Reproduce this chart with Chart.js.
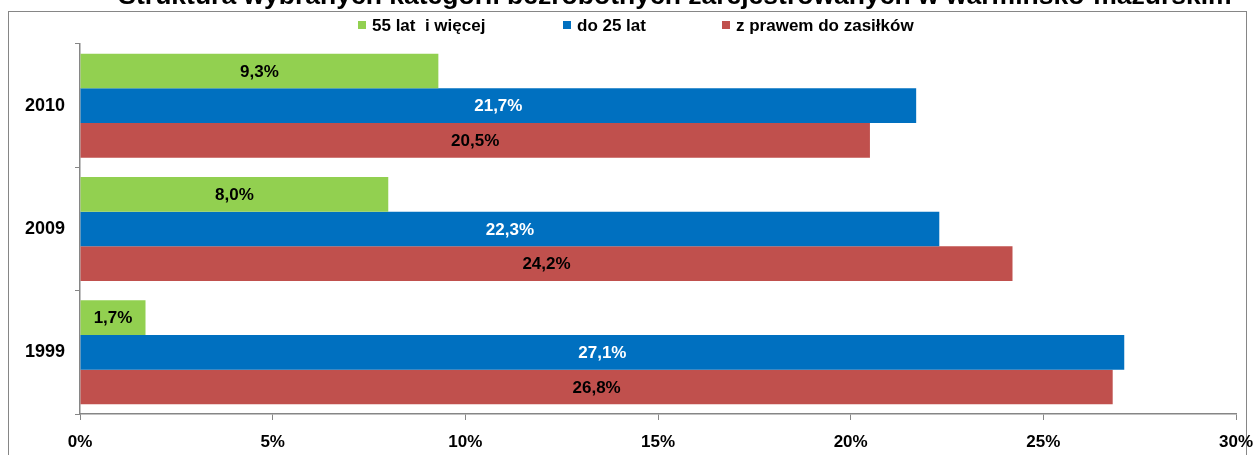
<!DOCTYPE html>
<html lang="pl">
<head>
    <meta charset="UTF-8">
    <title>Struktura wybranych kategorii bezrobotnych</title>
    <script src="https://cdn.jsdelivr.net/npm/chart.js"></script>
    <style>
        html, body { margin: 0; padding: 0; background: #ffffff; }
        #wrap { width: 1254px; height: 455px; position: relative; }
    </style>
</head>
<body>
<div id="wrap">
    <canvas id="unemploymentChart" width="1254" height="455"></canvas>
</div>
<script>
    // Dane: udział kategorii bezrobotnych (%)
    const years = ['2010', '2009', '1999'];
    const seriesNames = ['55 lat  i więcej', 'do 25 lat', 'z prawem do zasiłków'];
    const over55 = [9.3, 8.0, 1.7];
    const under25 = [21.7, 22.3, 27.1];
    const withBenefits = [20.5, 24.2, 26.8];
    const xTicks = [0, 5, 10, 15, 20, 25, 30];

    const titleText = 'Struktura wybranych kategorii bezrobotnych zarejestrowanych w warmińsko-mazurskim';
    const FONT = '"Liberation Sans", Arial, sans-serif';
    const colors = ['#92D050', '#0070C0', '#C0504D'];
    const labelColors = ['#000000', '#ffffff', '#000000'];

    const fmt = v => v.toFixed(1).replace('.', ',') + '%';

    // ramka, tytuł i legenda rysowane ręcznie
    const framePlugin = {
        id: 'frame',
        beforeDraw(chart) {
            const c = chart.ctx;
            c.save();
            c.strokeStyle = '#868686';
            c.lineWidth = 1;
            c.strokeRect(8.5, 11.5, 1238, 460);
            c.fillStyle = '#000';
            c.font = 'bold 26.5px ' + FONT;
            c.textAlign = 'center';
            c.textBaseline = 'alphabetic';
            c.fillText(titleText, 675, 4);

            // legenda
            c.font = 'bold 17px ' + FONT;
            c.textBaseline = 'middle';
            c.textAlign = 'left';
            const boxX = [358, 563, 722];
            chart.data.datasets.forEach((ds, i) => {
                c.fillStyle = ds.backgroundColor;
                c.fillRect(boxX[i], 21, 8, 8);
                c.fillStyle = '#000';
                c.fillText(ds.label, boxX[i] + 14, 26);
            });
            c.restore();
        }
    };

    // etykiety wartości w środku słupków
    const valueLabels = {
        id: 'valueLabels',
        afterDatasetsDraw(chart) {
            const c = chart.ctx;
            c.save();
            c.font = 'bold 17px ' + FONT;
            c.textAlign = 'center';
            c.textBaseline = 'middle';
            chart.data.datasets.forEach((ds, i) => {
                const meta = chart.getDatasetMeta(i);
                meta.data.forEach((bar, j) => {
                    c.fillStyle = labelColors[i];
                    c.fillText(fmt(ds.data[j]), (bar.x + bar.base) / 2, bar.y + 1);
                });
            });
            c.restore();
        }
    };

    const ctx = document.getElementById('unemploymentChart').getContext('2d');
    const chart = new Chart(ctx, {
        type: 'bar',
        data: {
            labels: years,
            datasets: [
                { label: seriesNames[0], data: over55, backgroundColor: colors[0] },
                { label: seriesNames[1], data: under25, backgroundColor: colors[1] },
                { label: seriesNames[2], data: withBenefits, backgroundColor: colors[2] }
            ]
        },
        options: {
            indexAxis: 'y',
            responsive: false,
            animation: false,
            devicePixelRatio: 1,
            layout: { padding: { top: 44, right: 18, bottom: 0, left: 0 } },
            datasets: {
                bar: { categoryPercentage: 0.843, barPercentage: 1.0, borderWidth: 0 }
            },
            plugins: {
                legend: { display: false },
                title: { display: false },
                tooltip: { enabled: false }
            },
            scales: {
                x: {
                    min: 0,
                    max: 30,
                    afterFit: s => { s.height = 41; s.paddingRight = 0; s.paddingLeft = 0; },
                    afterBuildTicks: s => { s.ticks = xTicks.map(v => ({ value: v })); },
                    border: { color: '#868686', width: 1.5 },
                    grid: { drawOnChartArea: false, drawTicks: true, tickLength: 6, color: '#868686' },
                    ticks: {
                        padding: 12,
                        color: '#000',
                        font: { family: FONT, size: 17, weight: 'bold' },
                        callback: v => v + '%'
                    }
                },
                y: {
                    afterFit: s => { s.width = 80; },
                    border: { color: '#868686', width: 1.5 },
                    grid: { drawOnChartArea: false, drawTicks: true, tickLength: 5, color: '#868686', offset: true },
                    ticks: {
                        padding: 10,
                        color: '#000',
                        font: { family: FONT, size: 18, weight: 'bold' }
                    }
                }
            }
        },
        plugins: [framePlugin, valueLabels]
    });
</script>
</body>
</html>
